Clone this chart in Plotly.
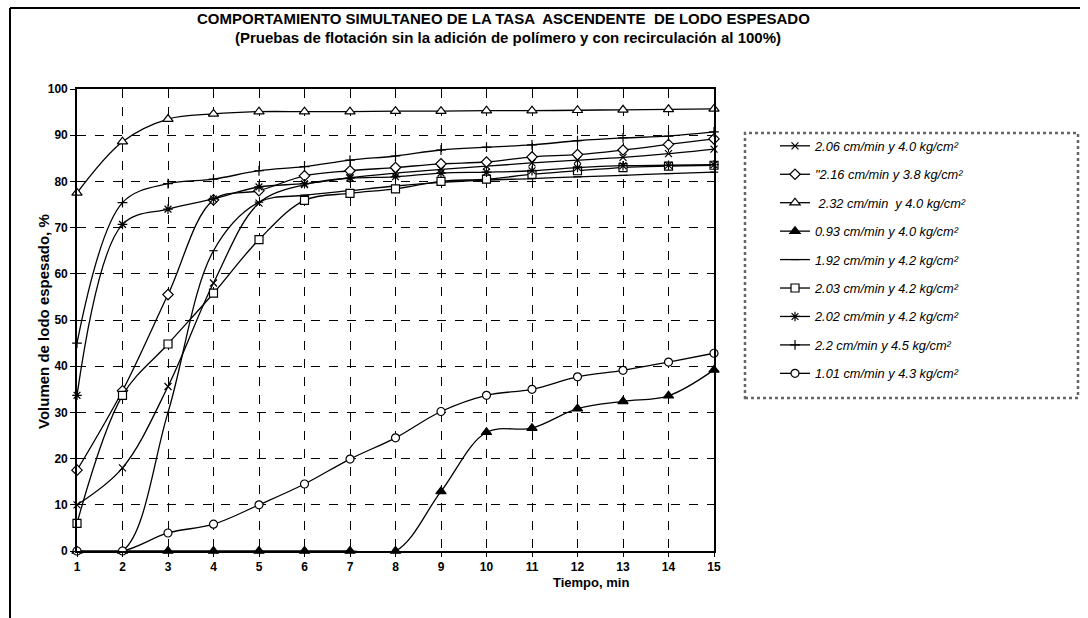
import plotly.graph_objects as go

# ---------------- data ----------------
tiempo = list(range(1, 16))

series_names = [
    "2.06 cm/min y 4.0 kg/cm²",
    "\"2.16 cm/min y 3.8 kg/cm²",
    "\u00a02.32 cm/min\u00a0\u00a0y 4.0 kg/cm²",
    "0.93 cm/min y 4.0 kg/cm²",
    "1.92 cm/min y 4.2 kg/cm²",
    "2.03 cm/min y 4.2 kg/cm²",
    "2.02 cm/min y 4.2 kg/cm²",
    "2.2 cm/min y 4.5 kg/cm²",
    "1.01 cm/min y 4.3 kg/cm²",
]

s_206 = [10, 18, 35.6, 58, 75.3, 79.3, 80.8, 81.8, 82.6, 83.3, 84.0, 84.6, 85.2, 86.0, 87.0]
s_216 = [17.5, 34.7, 55.5, 76, 78, 81.2, 82.3, 83.0, 83.8, 84.2, 85.3, 85.8, 86.8, 88.0, 89.2]
s_232 = [77.5, 88.6, 93.5, 94.6, 95.1, 95.1, 95.1, 95.2, 95.2, 95.3, 95.3, 95.4, 95.5, 95.6, 95.7]
s_093 = [0, 0, 0, 0, 0, 0, 0, 0, 12.9, 25.7, 26.6, 30.8, 32.4, 33.6, 39.2]
s_192 = [0, 0, 30, 65, 75.5, 77, 78, 79, 79.8, 80.3, 80.6, 81, 81.3, 81.7, 82]
s_203 = [6, 33.7, 44.8, 55.8, 67.4, 75.9, 77.4, 78.4, 80, 80.5, 81.5, 82.3, 83, 83.3, 83.5]
s_202 = [33.7, 70.7, 74, 76.2, 78.8, 79.5, 80.7, 81, 81.8, 82, 82.3, 83, 83.4, 83.5, 83.6]
s_22 = [45, 75.4, 79.5, 80.5, 82.3, 83.2, 84.6, 85.5, 86.8, 87.4, 87.9, 88.8, 89.4, 89.8, 90.7]
s_101 = [0, 0, 3.9, 5.8, 10, 14.5, 19.9, 24.5, 30.2, 33.7, 35, 37.7, 39.1, 40.9, 42.8]

y_ticks = list(range(0, 101, 10))

all_series = [s_206, s_216, s_232, s_093, s_192, s_203, s_202, s_22, s_101]

# marker styles: (symbol, size, fill)
styles = [
    ("x-thin-open", 7, "black"),
    ("diamond", 8, "white"),
    ("triangle-up", 9, "white"),
    ("triangle-up", 9, "black"),
    ("line-ew-open", 6, "black"),
    ("square", 8, "white"),
    ("asterisk-open", 8, "black"),
    ("cross-thin-open", 7, "black"),
    ("circle", 8, "white"),
]

FONT = "Liberation Sans, Arial, sans-serif"

fig = go.Figure()
for i, (name, vals, (sym, sz, fill)) in enumerate(zip(series_names, all_series, styles)):
    fig.add_trace(go.Scatter(
        x=tiempo, y=vals, name=name, mode="lines+markers",
        legendgroup=f"g{i}",
        line=dict(color="black", width=1.3, shape="spline", smoothing=1.0),
        marker=dict(symbol=sym, size=sz, color=fill,
                    line=dict(color="black", width=1.2)),
        cliponaxis=False,
    ))

W, H = 1088, 618
L, R, T, B = 77, 714, 89, 551
pw, ph = R - L, B - T

def px(x):
    return (x - L) / pw

def py(y):
    return (B - y) / ph

fig.update_layout(
    width=W, height=H,
    margin=dict(l=L, r=W - R, t=T, b=H - B, pad=0),
    paper_bgcolor="white", plot_bgcolor="white",
    font=dict(family=FONT, color="black"),
    showlegend=True,
    legend=dict(
        x=px(775), y=py(131), xanchor="left", yanchor="top",
        bgcolor="rgba(0,0,0,0)", borderwidth=0,
        font=dict(family=FONT, size=12.8, style="italic", color="black"),
        tracegroupgap=8.8, itemwidth=30,
    ),
    xaxis=dict(
        range=[1, 15], tickmode="array", tickvals=tiempo,
        showgrid=True, gridcolor="black", gridwidth=1.2, griddash="dash",
        showline=True, linecolor="black", linewidth=1.6, mirror=True,
        ticks="outside", ticklen=4, tickcolor="black",
        tickfont=dict(family=FONT, size=12, color="black", weight="bold"),
        zeroline=False,
    ),
    yaxis=dict(
        range=[0, 100], tickmode="array", tickvals=y_ticks,
        showgrid=True, gridcolor="black", gridwidth=1.2, griddash="dash",
        showline=True, linecolor="black", linewidth=1.6, mirror=True,
        ticks="outside", ticklen=5, tickcolor="black",
        tickfont=dict(family=FONT, size=12, color="black", weight="bold"),
        zeroline=False,
    ),
)

# legend border (dotted grey box)
fig.add_shape(type="rect", xref="paper", yref="paper",
              x0=px(745), x1=px(1078), y0=py(398), y1=py(133),
              line=dict(color="#666666", width=2.5, dash="dot"))

# outer chart frame (left + top)
fig.add_shape(type="line", xref="paper", yref="paper",
              x0=px(10), x1=px(1080), y0=py(8), y1=py(8),
              line=dict(color="black", width=2), layer="above")
fig.add_shape(type="line", xref="paper", yref="paper",
              x0=px(10), x1=px(10), y0=py(8), y1=py(640),
              line=dict(color="black", width=2), layer="above")

# titles
fig.add_annotation(xref="paper", yref="paper", x=px(503), y=py(18),
                   text="<b>COMPORTAMIENTO SIMULTANEO DE LA TASA  ASCENDENTE  DE LODO ESPESADO</b>",
                   showarrow=False, font=dict(family=FONT, size=15, color="black"),
                   xanchor="center", yanchor="middle")
fig.add_annotation(xref="paper", yref="paper", x=px(508), y=py(37),
                   text="<b>(Pruebas de flotación sin la adición de polímero y con recirculación al 100%)</b>",
                   showarrow=False, font=dict(family=FONT, size=15, color="black"),
                   xanchor="center", yanchor="middle")
fig.add_annotation(xref="paper", yref="paper", x=px(43), y=py(322),
                   text="<b>Volumen de lodo espesado, %</b>", textangle=-90,
                   showarrow=False, font=dict(family=FONT, size=15, color="black"),
                   xanchor="center", yanchor="middle")
fig.add_annotation(xref="paper", yref="paper", x=px(591), y=py(582),
                   text="<b>Tiempo, min</b>",
                   showarrow=False, font=dict(family=FONT, size=13, color="black"),
                   xanchor="center", yanchor="middle")

fig.write_html("out.html", config={"displayModeBar": False})
